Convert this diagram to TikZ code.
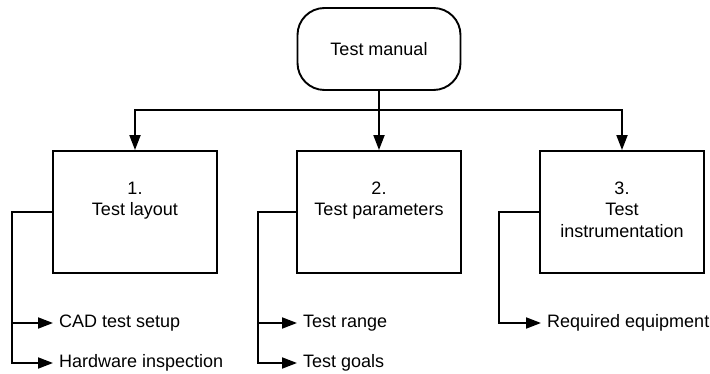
\documentclass[tikz,border=0pt]{standalone}
\usepackage{fontspec}
\setmainfont{Liberation Sans}
\usetikzlibrary{arrows.meta}
\begin{document}
\begin{tikzpicture}[x=1pt,y=-1pt,
  every node/.style={font=\fontsize{18}{21.5}\selectfont, text=black},
  link/.style={draw=black, line width=1.9pt},
  arr/.style={link, -{Triangle[length=15pt,width=11pt]}},
  terminal/.style={draw=black, line width=1.9pt, rounded corners=27pt,
    minimum width=163pt, minimum height=82pt, inner sep=0pt},
  stepbox/.style={draw=black, line width=1.9pt, minimum width=164pt,
    minimum height=122pt, inner sep=0pt},
  boxtext/.style={anchor=north, align=center, inner sep=0pt},
  item/.style={anchor=west, inner xsep=6pt, inner ysep=0pt,
    text height=12.9pt, text depth=3.8pt}]
\useasboundingbox (0,0) rectangle (710,374);

% top terminal
\node[terminal] (top) at (379,49) {Test manual};

% the three chapters
\node[stepbox] (b1) at (135,212) {};
\node[stepbox] (b2) at (379,212) {};
\node[stepbox] (b3) at (622,212) {};

\node[boxtext] (t1) at (135,181.5) {1.\\Test layout};
\node[boxtext] (t2) at (379,181.5) {2.\\Test parameters};
\node[boxtext] (t3) at (622,181.5) {3.\\Test\\instrumentation};

% distribution from the manual
\coordinate (hub) at (379,110);
\draw[arr] (top.south) -- (b2.north);
\draw[arr] (hub) -| (b1.north);
\draw[arr] (hub) -| (b3.north);

% sub-items
\node[item] (i11) at (53,323) {CAD test setup};
\node[item] (i12) at (53,363) {Hardware inspection};
\node[item] (i21) at (297,323) {Test range};
\node[item] (i22) at (297,363) {Test goals};
\node[item] (i31) at (541,323) {Required equipment};

\coordinate (k1) at (12,212);
\coordinate (k2) at (258,212);
\coordinate (k3) at (499,212);

\draw[arr] (b1.west) -- (k1) |- (i11.west);
\draw[arr] (k1) |- (i12.west);
\draw[arr] (b2.west) -- (k2) |- (i21.west);
\draw[arr] (k2) |- (i22.west);
\draw[arr] (b3.west) -- (k3) |- (i31.west);
\end{tikzpicture}
\end{document}
